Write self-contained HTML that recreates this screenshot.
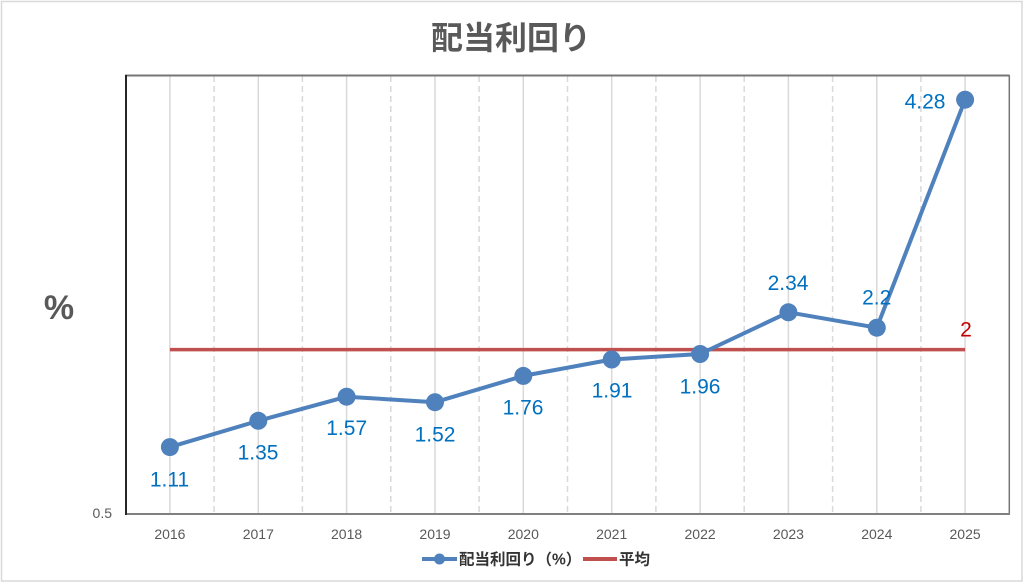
<!DOCTYPE html>
<html><head><meta charset="utf-8"><style>
html,body{margin:0;padding:0;background:#fff;}
svg{display:block;}
</style></head><body>
<svg width="1024" height="584" viewBox="0 0 1024 584" xmlns="http://www.w3.org/2000/svg">
<rect x="0" y="0" width="1024" height="584" fill="#fff"/>
<rect x="1.5" y="1.5" width="1020.5" height="579.5" fill="#fff" stroke="#D9D9D9" stroke-width="1.5"/>
<text x="511" y="49" text-anchor="middle" font-family="'Liberation Sans','Noto Sans CJK JP',sans-serif" font-size="32" font-weight="bold" fill="#595959">配当利回り</text>
<text x="59" y="319" text-anchor="middle" font-family="'Liberation Sans',sans-serif" font-size="34" font-weight="bold" fill="#595959">%</text>
<g stroke="#D9D9D9" stroke-width="1.5">
<line x1="169.9" y1="76" x2="169.9" y2="514"/>
<line x1="258.3" y1="76" x2="258.3" y2="514"/>
<line x1="346.6" y1="76" x2="346.6" y2="514"/>
<line x1="435.0" y1="76" x2="435.0" y2="514"/>
<line x1="523.3" y1="76" x2="523.3" y2="514"/>
<line x1="611.7" y1="76" x2="611.7" y2="514"/>
<line x1="700.1" y1="76" x2="700.1" y2="514"/>
<line x1="788.4" y1="76" x2="788.4" y2="514"/>
<line x1="876.8" y1="76" x2="876.8" y2="514"/>
<line x1="965.1" y1="76" x2="965.1" y2="514"/>
</g>
<g stroke="#D9D9D9" stroke-width="1.5" stroke-dasharray="6,4">
<line x1="214.1" y1="76" x2="214.1" y2="514"/>
<line x1="302.4" y1="76" x2="302.4" y2="514"/>
<line x1="390.8" y1="76" x2="390.8" y2="514"/>
<line x1="479.1" y1="76" x2="479.1" y2="514"/>
<line x1="567.5" y1="76" x2="567.5" y2="514"/>
<line x1="655.9" y1="76" x2="655.9" y2="514"/>
<line x1="744.2" y1="76" x2="744.2" y2="514"/>
<line x1="832.6" y1="76" x2="832.6" y2="514"/>
<line x1="920.9" y1="76" x2="920.9" y2="514"/>
</g>
<line x1="125" y1="75.5" x2="1009.5" y2="75.5" stroke="#767676" stroke-width="2"/>
<line x1="1009.3" y1="75" x2="1009.3" y2="514.5" stroke="#767676" stroke-width="1.5"/>
<line x1="125" y1="514" x2="1010" y2="514" stroke="#808080" stroke-width="2"/>
<line x1="126" y1="75" x2="126" y2="515" stroke="#262626" stroke-width="2"/>
<line x1="169.9" y1="349.6" x2="965.1" y2="349.6" stroke="#C0504D" stroke-width="3.5"/>
<polyline fill="none" stroke="#4F81BD" stroke-width="4" stroke-linejoin="round" points="169.9,447.1 258.3,420.8 346.6,396.7 435.0,402.2 523.3,375.9 611.7,359.5 700.1,354.0 788.4,312.3 876.8,327.7 965.1,99.7"/>
<g fill="#4F81BD">
<circle cx="169.9" cy="447.1" r="9"/>
<circle cx="258.3" cy="420.8" r="9"/>
<circle cx="346.6" cy="396.7" r="9"/>
<circle cx="435.0" cy="402.2" r="9"/>
<circle cx="523.3" cy="375.9" r="9"/>
<circle cx="611.7" cy="359.5" r="9"/>
<circle cx="700.1" cy="354.0" r="9"/>
<circle cx="788.4" cy="312.3" r="9"/>
<circle cx="876.8" cy="327.7" r="9"/>
<circle cx="965.1" cy="99.7" r="9"/>
</g>
<g font-family="'Liberation Sans',sans-serif" font-size="21" fill="#0070C0" text-anchor="middle">
<text x="169.5" y="486.5">1.11</text>
<text x="258" y="459.5">1.35</text>
<text x="346.7" y="435">1.57</text>
<text x="435" y="441.5">1.52</text>
<text x="523" y="414.5">1.76</text>
<text x="612" y="397.5">1.91</text>
<text x="700" y="393.5">1.96</text>
<text x="788" y="290">2.34</text>
<text x="876.7" y="304.5">2.2</text>
<text x="925" y="108.5">4.28</text>
</g>
<text x="966" y="336.5" text-anchor="middle" font-family="'Liberation Sans',sans-serif" font-size="21" fill="#C00000">2</text>
<g font-family="'Liberation Sans',sans-serif" font-size="14" fill="#595959" text-anchor="middle">
<text x="169.9" y="539">2016</text>
<text x="258.3" y="539">2017</text>
<text x="346.6" y="539">2018</text>
<text x="435.0" y="539">2019</text>
<text x="523.3" y="539">2020</text>
<text x="611.7" y="539">2021</text>
<text x="700.1" y="539">2022</text>
<text x="788.4" y="539">2023</text>
<text x="876.8" y="539">2024</text>
<text x="965.1" y="539">2025</text>
</g>
<text x="112" y="518" text-anchor="end" font-family="'Liberation Sans',sans-serif" font-size="14" fill="#595959">0.5</text>
<line x1="422" y1="559" x2="457" y2="559" stroke="#4F81BD" stroke-width="4"/>
<circle cx="439.5" cy="559" r="5.5" fill="#4F81BD"/>
<text x="459" y="564.5" font-family="'Liberation Sans','Noto Sans CJK JP',sans-serif" font-size="15.5" font-weight="bold" fill="#333">配当利回り（%）</text>
<line x1="583" y1="559" x2="617" y2="559" stroke="#C0504D" stroke-width="4"/>
<text x="619" y="564.5" font-family="'Liberation Sans','Noto Sans CJK JP',sans-serif" font-size="15.5" font-weight="bold" fill="#333">平均</text>
</svg>
</body></html>
